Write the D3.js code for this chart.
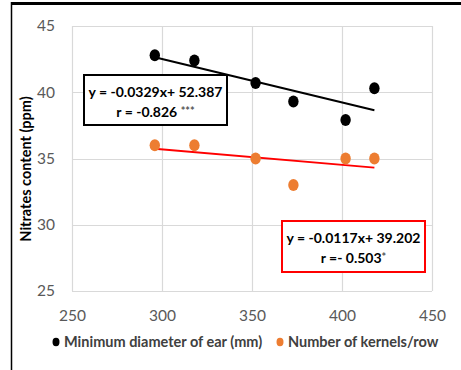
<!DOCTYPE html>
<html><head><meta charset="utf-8">
<script src="https://cdn.jsdelivr.net/npm/d3@7"></script>
<style>body{margin:0;background:#fff}svg{display:block}</style>
</head><body>
<svg id="c" width="461" height="370"></svg>
<script>
const xTicks = [250, 300, 350, 400, 450];
const yTicks = [25, 30, 35, 40, 45];
const xValues = [296, 318, 352, 373, 402, 418];
const diameterValues = [42.8, 42.4, 40.7, 39.3, 37.9, 40.3];
const kernelsValues = [36.0, 36.0, 35.0, 33.0, 35.0, 35.0];
const seriesNames = ["Minimum diameter of ear (mm)", "Number of kernels/row"];
const seriesColors = ["#000000", "#ED7D31"];
const trendColors = ["#000000", "#FF0000"];
const slopes = [-0.0329, -0.0117];
const intercepts = [52.387, 39.202];
const eqLabels = ["y = -0.0329x+ 52.387", "y = -0.0117x+ 39.202"];
const rLabels = [["r = -0.826 ", "***"], ["r =- 0.503", "*"]];
const yTitle = "Nitrates content (ppm)";

const svg = d3.select("#c");
const font = "Lato, 'Open Sans', sans-serif";
const x = d3.scaleLinear().domain([250, 450]).range([72, 432]);
const y = d3.scaleLinear().domain([25, 45]).range([291, 26]);

// frame
svg.append("line").attr("x1", 11).attr("x2", 461).attr("y1", 3.5).attr("y2", 3.5).attr("stroke", "#000").attr("stroke-width", 3);
svg.append("line").attr("x1", 11.5).attr("x2", 11.5).attr("y1", 2).attr("y2", 370).attr("stroke", "#000").attr("stroke-width", 1.5);

// grid
const g = svg.append("g");
g.selectAll(".vx").data(xTicks).join("line")
  .attr("x1", d => Math.round(x(d)) + 0.5).attr("x2", d => Math.round(x(d)) + 0.5)
  .attr("y1", y(45)).attr("y2", y(25)).attr("stroke", "#d9d9d9").attr("stroke-width", 1.2);
g.selectAll(".hy").data(yTicks).join("line")
  .attr("y1", d => Math.round(y(d)) + 0.5).attr("y2", d => Math.round(y(d)) + 0.5)
  .attr("x1", x(250)).attr("x2", x(450)).attr("stroke", "#d9d9d9").attr("stroke-width", 1.2);

// axes using d3 axis with hidden lines
const xAxis = svg.append("g").attr("transform", `translate(0,${y(25)})`)
  .call(d3.axisBottom(x).tickValues(xTicks).tickSize(0).tickPadding(19));
const yAxis = svg.append("g").attr("transform", `translate(${x(250)},0)`)
  .call(d3.axisLeft(y).tickValues(yTicks).tickSize(0).tickPadding(17));
[xAxis, yAxis].forEach(a => {
  a.select(".domain").remove();
  a.selectAll("text").attr("fill", "#595959").style("font-family", font).style("font-size", "15.5px");
});

// y title
svg.append("text").attr("transform", `translate(31,169) rotate(-90)`)
  .attr("text-anchor", "middle").style("font-family", font).style("font-weight", "bold")
  .style("font-size", "14.5px").attr("fill", "#000").text(yTitle);

// trend lines
const xmin = d3.min(xValues), xmax = d3.max(xValues);
[0, 1].forEach(i => {
  svg.append("line")
    .attr("x1", x(xmin)).attr("y1", y(slopes[i] * xmin + intercepts[i]))
    .attr("x2", x(xmax)).attr("y2", y(slopes[i] * xmax + intercepts[i]))
    .attr("stroke", trendColors[i]).attr("stroke-width", 2);
});

// points
[diameterValues, kernelsValues].forEach((vals, i) => {
  svg.append("g").selectAll("ellipse").data(vals).join("ellipse")
    .attr("cx", (d, j) => x(xValues[j])).attr("cy", d => y(d))
    .attr("rx", 5.2).attr("ry", 6).attr("fill", seriesColors[i]);
});

// equation boxes
const boxes = [
  {x0: 84, y0: 75, w: 143, h: 50, stroke: "#000"},
  {x0: 282, y0: 221, w: 143, h: 51, stroke: "#FF0000"}
];
boxes.forEach((b, i) => {
  svg.append("rect").attr("x", b.x0).attr("y", b.y0).attr("width", b.w).attr("height", b.h)
    .attr("fill", "#fff").attr("stroke", b.stroke).attr("stroke-width", 2);
  const cx = b.x0 + b.w / 2;
  svg.append("text").attr("x", cx).attr("y", b.y0 + 22).attr("text-anchor", "middle")
    .style("font-family", font).style("font-weight", "bold").style("font-size", "14px")
    .attr("fill", "#000").text(eqLabels[i]);
  const t = svg.append("text").attr("x", cx).attr("y", b.y0 + 42).attr("text-anchor", "middle")
    .style("font-family", font).style("font-weight", "bold").style("font-size", "14px").attr("fill", "#000");
  t.append("tspan").text(rLabels[i][0]);
  t.append("tspan").attr("fill", "#555").style("font-size", "11px").attr("dy", -2).text(rLabels[i][1]);
});

// legend
const legX = [56, 280];
seriesNames.forEach((n, i) => {
  svg.append("ellipse").attr("cx", legX[i]).attr("cy", 342).attr("rx", 3.5).attr("ry", 4.2).attr("fill", seriesColors[i]);
  svg.append("text").attr("x", legX[i] + 8).attr("y", 347)
    .style("font-family", font).style("font-weight", "bold").style("font-size", "14.5px")
    .attr("fill", "#404040").text(n);
});
</script>
</body></html>
